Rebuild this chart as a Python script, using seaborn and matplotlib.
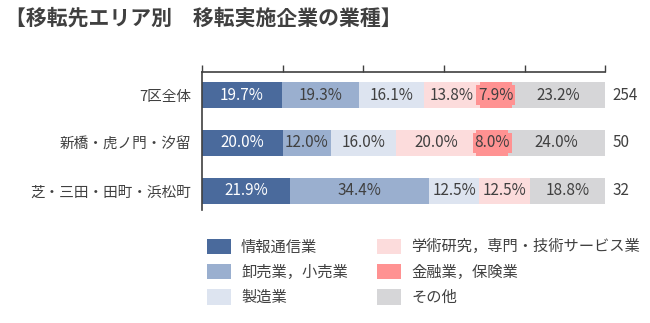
import matplotlib
matplotlib.use("Agg")
import matplotlib.pyplot as plt
import seaborn as sns
import numpy as np
import pandas as pd
from matplotlib.patches import Patch

sns.set_theme(style="white")
plt.rcParams["font.family"] = ["Noto Sans CJK JP", "DejaVu Sans"]

areas = ["7区全体", "新橋・虎ノ門・汐留", "芝・三田・田町・浜松町"]
totals = [254, 50, 32]
industries = ["情報通信業", "卸売業，小売業", "製造業",
              "学術研究，専門・技術サービス業", "金融業，保険業", "その他"]
info = [19.7, 20.0, 21.9]
wholesale = [19.3, 12.0, 34.4]
manufacturing = [16.1, 16.0, 12.5]
academic = [13.8, 20.0, 12.5]
finance = [7.9, 8.0, 0.0]
other = [23.2, 24.0, 18.8]
colors = ["#4a6a9c", "#9aafcf", "#dde4f0", "#fcdcdc", "#ff9292", "#d6d6d8"]

series = [info, wholesale, manufacturing, academic, finance, other]
shares = pd.DataFrame(np.array(series).T, index=areas, columns=industries)
cum = shares.cumsum(axis=1)

fig = plt.figure(figsize=(6.5, 3.23), dpi=100)
ax = fig.add_axes([0.311, 0.35, 0.62, 0.427])

# stacked bars: draw the cumulative totals back to front
for i in range(len(industries) - 1, -1, -1):
    d = pd.DataFrame({"area": areas, "value": cum.iloc[:, i].values})
    sns.barplot(data=d, x="value", y="area", orient="h", color=colors[i],
                saturation=1, width=0.56, ax=ax, linewidth=0)

for r, area in enumerate(areas):
    for i, name in enumerate(industries):
        v = shares.loc[area, name]
        if v <= 0:
            continue
        center = cum.loc[area, name] - v / 2
        tc = "white" if i == 0 else "#404040"
        kw = {}
        if i == 4:
            kw["bbox"] = dict(boxstyle="square,pad=0.12", fc=colors[4], ec="none")
        ax.text(center, r, f"{v:.1f}%", ha="center", va="center",
                fontsize=11, color=tc, **kw)
    ax.text(101.8, r, str(totals[r]), ha="left", va="center",
            fontsize=11, color="#404040")

ax.set_xlim(0, 100)
ax.set_ylim(2.396, -0.479)
ax.set_xlabel("")
ax.set_ylabel("")
ax.xaxis.tick_top()
ax.set_xticks([0, 20, 40, 60, 80, 100])
ax.tick_params(axis="x", direction="out", length=5, color="#404040",
               labeltop=False, top=True, bottom=False, width=1)
ax.tick_params(axis="y", length=0, labelsize=10.5, labelcolor="#404040", pad=8)
for s in ["right", "bottom"]:
    ax.spines[s].set_visible(False)
for s in ["top", "left"]:
    ax.spines[s].set_color("#404040")
    ax.spines[s].set_linewidth(1.2)

handles = [Patch(facecolor=c, edgecolor="none") for c in colors]
fig.legend(handles, industries, loc="upper left", bbox_to_anchor=(0.318, 0.262),
           ncol=2, frameon=False, fontsize=11, handlelength=1.6,
           handleheight=1.15, handletextpad=0.65, columnspacing=1.9,
           labelspacing=0.55, labelcolor="#404040", borderpad=0,
           borderaxespad=0)

fig.text(0.008, 0.945, "【移転先エリア別　移転実施企業の業種】", fontsize=15,
         fontweight="bold", color="#404040", ha="left", va="center")

fig.savefig("out.png", dpi=100)
